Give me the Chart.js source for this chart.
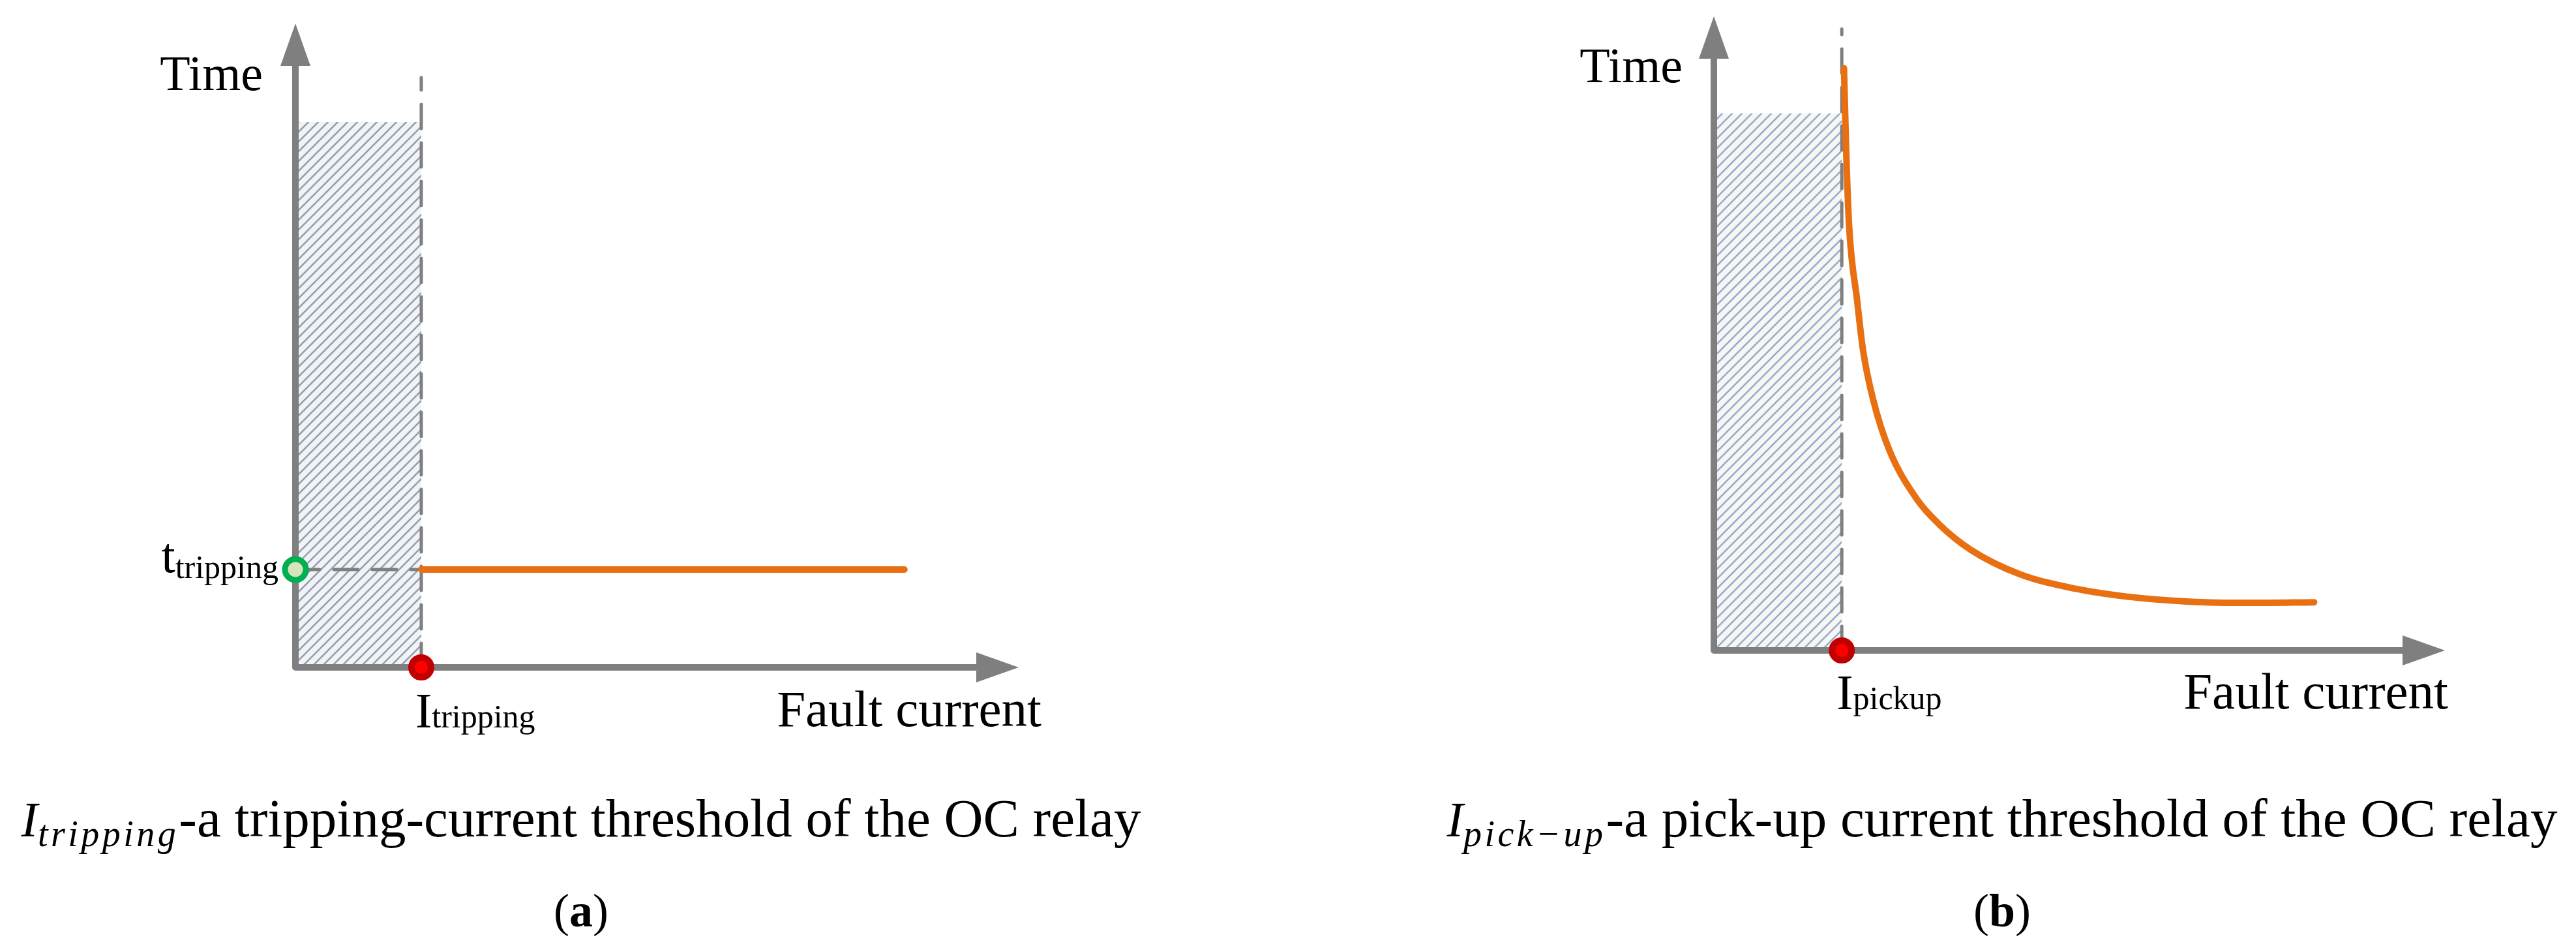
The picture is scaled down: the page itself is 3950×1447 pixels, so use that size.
<!DOCTYPE html>
<html>
<head>
<meta charset="utf-8">
<script src="https://cdn.jsdelivr.net/npm/chart.js@4.4.1/dist/chart.umd.min.js"></script>
<style>
  html, body { margin: 0; padding: 0; background: #fff; }
  #wrap { position: relative; width: 3950px; height: 1447px; }
  canvas { position: absolute; top: 0; }
  #chartA { left: 0; }
  #chartB { left: 1975px; }
</style>
</head>
<body>
<div id="wrap">
  <canvas id="chartA" width="1975" height="1447"></canvas>
  <canvas id="chartB" width="1975" height="1447"></canvas>
</div>
<script>
// both panels use a 0..100 scale on each axis (no numbers shown)
const axisMax = 100;

// (a) definite-time OC relay
const tripCurrent = 17.4;
const tripTime = 15.2;
const tripLineEnd = 84.2;
const zoneTopA = 84.7;
const guideTopA = 91.6;

// (b) inverse-time OC relay
const pickupCurrent = 17.5;
const zoneTopB = 84.7;
const guideTopB = 98;
const curveCurrent = [17.8, 18.1, 18.5, 19.6, 20.4, 21.8, 24.0, 27.8, 30.8, 35.1, 41.9, 49.6, 56.4, 65.0, 73.5, 82.1];
const curveTime = [91.8, 78.8, 67.0, 55.2, 47.4, 39.5, 31.6, 23.8, 19.9, 15.9, 12.0, 9.7, 8.5, 7.7, 7.5, 7.6];

const axisTitles = ['Time', 'Fault current'];
const captionA = ['I', 'tripping', '-a tripping-current threshold of the OC relay'];
const captionB = ['I', 'pick\u2212up', '-a pick-up current threshold of the OC relay'];

const GRAY = '#7f7f7f';
const ORANGE = '#e97012';
const FAMILY = '"Liberation Serif", "Times New Roman", serif';

function hatch(bg, ink) {
  const s = 15;
  const c = document.createElement('canvas');
  c.width = c.height = s;
  const g = c.getContext('2d');
  g.fillStyle = bg;
  g.fillRect(0, 0, s, s);
  g.strokeStyle = ink;
  g.lineWidth = 2.6;
  g.beginPath();
  g.moveTo(-3, s + 3); g.lineTo(s + 3, -3);
  g.moveTo(-3, 3); g.lineTo(3, -3);
  g.moveTo(s - 3, s + 3); g.lineTo(s + 3, s - 3);
  g.stroke();
  return g.createPattern(c, 'repeat');
}

function drawRuns(ctx, runs, x, y, align) {
  let total = 0;
  const widths = runs.map(r => {
    ctx.font = r.font;
    ctx.letterSpacing = (r.spacing || 0) + 'px';
    const w = ctx.measureText(r.text).width;
    total += w;
    return w;
  });
  let cx = align === 'right' ? x - total : align === 'center' ? x - total / 2 : x;
  ctx.textAlign = 'left';
  ctx.textBaseline = 'alphabetic';
  ctx.fillStyle = '#000';
  runs.forEach((r, i) => {
    ctx.font = r.font;
    ctx.letterSpacing = (r.spacing || 0) + 'px';
    ctx.fillText(r.text, cx, y + (r.dy || 0));
    cx += widths[i];
  });
  ctx.letterSpacing = '0px';
}

// axis lines with arrow heads, drawn right after the hatched zone
const arrowAxes = {
  id: 'arrowAxes',
  afterDatasetDraw(chart, args) {
    if (args.meta.label !== 'zone') return;
    const { ctx, scales: { x, y } } = chart;
    const x0 = x.getPixelForValue(0), y0 = y.getPixelForValue(0);
    const xe = x.getPixelForValue(axisMax), ye = y.getPixelForValue(axisMax);
    const head = 65, half = 23;
    ctx.save();
    ctx.strokeStyle = GRAY;
    ctx.fillStyle = GRAY;
    ctx.lineWidth = 10;
    ctx.lineJoin = 'round';
    ctx.beginPath();
    ctx.moveTo(x0, ye + head);
    ctx.lineTo(x0, y0);
    ctx.lineTo(xe - head, y0);
    ctx.stroke();
    ctx.beginPath();
    ctx.moveTo(x0, ye);
    ctx.lineTo(x0 - half, ye + head);
    ctx.lineTo(x0 + half, ye + head);
    ctx.closePath();
    ctx.fill();
    ctx.beginPath();
    ctx.moveTo(xe, y0);
    ctx.lineTo(xe - head, y0 - half);
    ctx.lineTo(xe - head, y0 + half);
    ctx.closePath();
    ctx.fill();
    ctx.restore();
  }
};

const textLabels = {
  id: 'textLabels',
  afterDraw(chart, args, opts) {
    const { ctx, scales: { x, y } } = chart;
    ctx.save();
    opts.items(x, y).forEach(it => drawRuns(ctx, it.runs, it.x, it.y, it.align));
    ctx.restore();
  }
};

const dashed = { borderColor: GRAY, borderWidth: 5, borderDash: [37, 22], borderCapStyle: 'round', pointRadius: 0, clip: false };
const big = '76px ' + FAMILY;
const sub = '50px ' + FAMILY;

function caption(parts, cx, tag) {
  return [
    { x: cx, y: 1282, align: 'center', runs: [
      { text: parts[0], font: 'italic 76px ' + FAMILY },
      { text: parts[1], font: 'italic 56px ' + FAMILY, dy: 15, spacing: 4.5 },
      { text: parts[2], font: '83px ' + FAMILY }
    ] },
    { x: cx, y: 1420, align: 'center', runs: [
      { text: '(', font: '72px ' + FAMILY },
      { text: tag, font: 'bold 72px ' + FAMILY },
      { text: ')', font: '72px ' + FAMILY }
    ] }
  ];
}

function baseOptions(padding, items) {
  return {
    responsive: false,
    devicePixelRatio: 1,
    animation: false,
    events: [],
    layout: { padding },
    scales: {
      x: { type: 'linear', min: 0, max: axisMax, display: false },
      y: { type: 'linear', min: 0, max: axisMax, display: false }
    },
    plugins: {
      legend: { display: false },
      tooltip: { enabled: false },
      textLabels: { items }
    }
  };
}

// panel (a)
new Chart(document.getElementById('chartA'), {
  type: 'line',
  data: {
    datasets: [
      { label: 'trip point', data: [{ x: tripCurrent, y: 0 }], pointRadius: 15, borderWidth: 10,
        pointBorderColor: '#c00000', pointBackgroundColor: '#ff0000', showLine: false, clip: false },
      { label: 'trip time', data: [{ x: 0, y: tripTime }], pointRadius: 16, borderWidth: 9,
        pointBorderColor: '#00b050', pointBackgroundColor: '#d7e4bd', showLine: false, clip: false },
      { label: 'characteristic', data: [{ x: tripCurrent, y: tripTime }, { x: tripLineEnd, y: tripTime }],
        borderColor: ORANGE, borderWidth: 10, borderCapStyle: 'round', pointRadius: 0, clip: false },
      Object.assign({ label: 'time guide', data: [{ x: 0, y: tripTime }, { x: tripCurrent, y: tripTime }] }, dashed),
      Object.assign({ label: 'current guide', data: [{ x: tripCurrent, y: 0 }, { x: tripCurrent, y: guideTopA }] }, dashed),
      { label: 'zone', data: [{ x: 0, y: zoneTopA }, { x: tripCurrent, y: zoneTopA }],
        borderWidth: 0, pointRadius: 0, fill: 'origin', backgroundColor: hatch('#eff4fa', '#9a9da3'), clip: false }
    ]
  },
  options: baseOptions({ left: 453, right: 413, top: 36, bottom: 424 }, (x, y) => {
    const x0 = x.getPixelForValue(0), y0 = y.getPixelForValue(0);
    const xe = x.getPixelForValue(axisMax), ye = y.getPixelForValue(axisMax);
    const xt = x.getPixelForValue(tripCurrent), yt = y.getPixelForValue(tripTime);
    return [
      { x: x0 - 50, y: ye + 102, align: 'right', runs: [{ text: axisTitles[0], font: big }] },
      { x: xe + 35, y: y0 + 90, align: 'right', runs: [{ text: axisTitles[1], font: '79px ' + FAMILY }] },
      { x: xt - 9, y: y0 + 92, align: 'left', runs: [{ text: 'I', font: big }, { text: 'tripping', font: sub }] },
      { x: x0 - 26, y: yt + 4, align: 'right', runs: [{ text: 't', font: big }, { text: 'tripping', font: sub, dy: 9 }] }
    ].concat(caption(captionA, 891, 'a'));
  }),
  plugins: [arrowAxes, textLabels]
});

// panel (b)
new Chart(document.getElementById('chartB'), {
  type: 'line',
  data: {
    datasets: [
      { label: 'pickup point', data: [{ x: pickupCurrent, y: 0 }], pointRadius: 15, borderWidth: 10,
        pointBorderColor: '#c00000', pointBackgroundColor: '#ff0000', showLine: false, clip: false },
      { label: 'characteristic', data: curveCurrent.map((c, i) => ({ x: c, y: curveTime[i] })),
        borderColor: ORANGE, borderWidth: 10, borderCapStyle: 'round', cubicInterpolationMode: 'monotone',
        pointRadius: 0, clip: false },
      Object.assign({ label: 'current guide', data: [{ x: pickupCurrent, y: 0 }, { x: pickupCurrent, y: guideTopB }] }, dashed),
      { label: 'zone', data: [{ x: 0, y: zoneTopB }, { x: pickupCurrent, y: zoneTopB }],
        borderWidth: 0, pointRadius: 0, fill: 'origin', backgroundColor: hatch('#f4f8f3', '#a2a5cc'), clip: false }
    ]
  },
  options: baseOptions({ left: 653, right: 201, top: 23, bottom: 450 }, (x, y) => {
    const x0 = x.getPixelForValue(0), y0 = y.getPixelForValue(0);
    const xe = x.getPixelForValue(axisMax), ye = y.getPixelForValue(axisMax);
    const xp = x.getPixelForValue(pickupCurrent);
    return [
      { x: x0 - 48, y: ye + 101, align: 'right', runs: [{ text: axisTitles[0], font: big }] },
      { x: xe + 5, y: y0 + 89, align: 'right', runs: [{ text: axisTitles[1], font: '79px ' + FAMILY }] },
      { x: xp - 8, y: y0 + 90, align: 'left', runs: [{ text: 'I', font: big }, { text: 'pickup', font: sub }] }
    ].concat(caption(captionB, 1095, 'b'));
  }),
  plugins: [arrowAxes, textLabels]
});
</script>
</body>
</html>
